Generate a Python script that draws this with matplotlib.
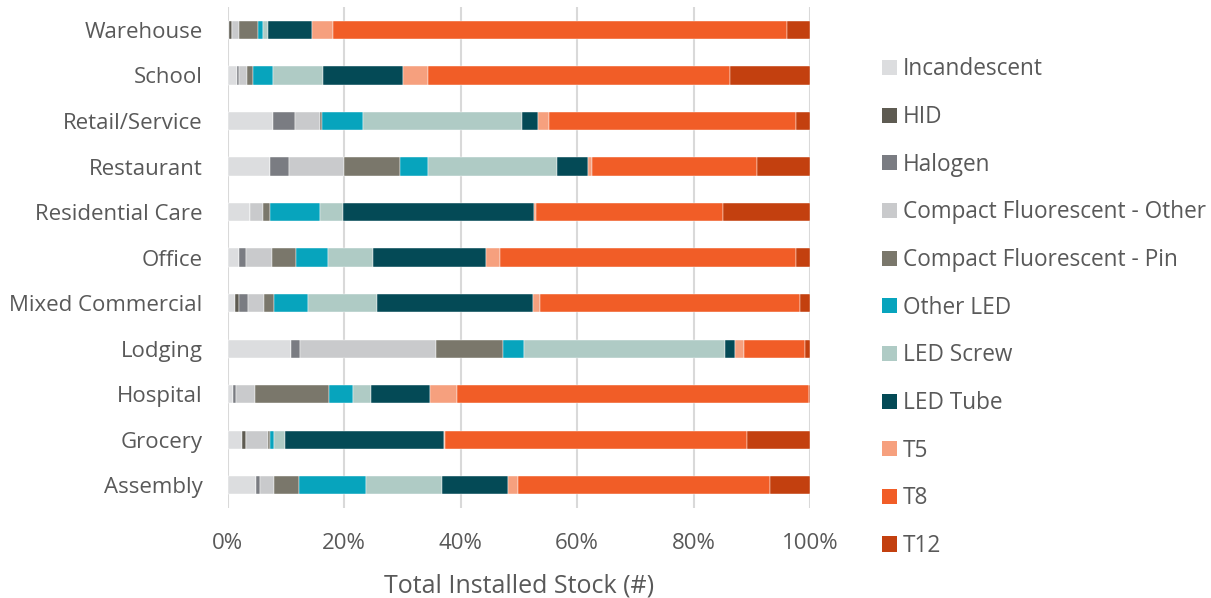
import matplotlib
matplotlib.use("Agg")
import matplotlib.pyplot as plt
import numpy as np
from matplotlib.patches import Patch
from matplotlib.ticker import PercentFormatter

plt.rcParams['font.family'] = ['Open Sans', 'DejaVu Sans']

# Building types, bottom to top
categories = ["Assembly", "Grocery", "Hospital", "Lodging", "Mixed Commercial",
              "Office", "Residential Care", "Restaurant", "Retail/Service",
              "School", "Warehouse"]

technologies = ["Incandescent", "HID", "Halogen", "Compact Fluorescent - Other",
                "Compact Fluorescent - Pin", "Other LED", "LED Screw", "LED Tube",
                "T5", "T8", "T12"]

# Share of installed stock (%) per technology, in category order above
incandescent = [4.9, 2.5, 0.9, 10.9, 1.3, 1.9, 3.8, 7.2, 7.8, 1.6, 0.2]
hid          = [0.0, 0.6, 0.0, 0.0, 0.6, 0.0, 0.0, 0.0, 0.0, 0.0, 0.5]
halogen      = [0.6, 0.0, 0.6, 1.6, 1.6, 1.3, 0.0, 3.4, 3.8, 0.4, 0.0]
cfl_other    = [2.4, 3.9, 3.2, 23.3, 2.7, 4.4, 2.3, 9.3, 4.3, 1.3, 1.2]
cfl_pin      = [4.3, 0.2, 12.7, 11.5, 1.7, 4.1, 1.1, 9.6, 0.3, 1.1, 3.3]
other_led    = [11.6, 0.8, 4.1, 3.5, 5.9, 5.5, 8.6, 4.9, 7.0, 3.4, 0.9]
led_screw    = [13.0, 1.8, 3.1, 34.6, 11.8, 7.8, 4.0, 22.1, 27.4, 8.6, 0.9]
led_tube     = [11.4, 27.3, 10.2, 1.7, 26.9, 19.3, 32.8, 5.3, 2.7, 13.7, 7.6]
t5           = [1.7, 0.3, 4.5, 1.55, 1.2, 2.4, 0.4, 0.7, 1.8, 4.3, 3.6]
t8           = [43.2, 51.8, 60.5, 10.45, 44.5, 50.8, 32.0, 28.3, 42.4, 51.7, 78.4]
t12          = [6.9, 10.9, 0.2, 0.9, 1.8, 2.5, 15.0, 9.2, 2.5, 13.8, 4.0]

series = [incandescent, hid, halogen, cfl_other, cfl_pin, other_led,
          led_screw, led_tube, t5, t8, t12]

colors = ["#dcdddf", "#5e5b52", "#7a7c82", "#c9cacc", "#7a776b", "#07a4bd",
          "#afcbc5", "#044a56", "#f6a07e", "#f15d27", "#c3400f"]

text_color = "#595959"

data = np.array(series, dtype=float)
shares = data / data.sum(axis=0) * 100

fig = plt.figure(figsize=(12.11, 5.98), dpi=100)
ax = fig.add_axes([0.188, 0.1505, 0.481, 0.8375])

y = np.arange(len(categories))
left = np.zeros(len(categories))
for vals, col, name in zip(shares, colors, technologies):
    ax.barh(y, vals, left=left, height=0.4, color=col, label=name,
            edgecolor="white", linewidth=0.3, zorder=3)
    left += vals

ax.set_xlim(0, 100)
ax.set_ylim(-0.5, len(categories) - 0.5)
ax.set_xticks(np.arange(0, 101, 20))
ax.xaxis.set_major_formatter(PercentFormatter(decimals=0))
ax.set_yticks(y)
ax.set_yticklabels(categories)
ax.grid(axis="x", color="#d9d9d9", linewidth=1.5, zorder=0)
for s in ax.spines.values():
    s.set_visible(False)
ax.tick_params(axis="both", length=0, labelsize=16, colors=text_color)
ax.tick_params(axis="y", pad=18)
ax.tick_params(axis="x", pad=18)
ax.set_xlabel("Total Installed Stock (#)", fontsize=18, color=text_color, labelpad=14)

handles = [Patch(facecolor=c, edgecolor="none") for c in colors]
leg = fig.legend(handles, technologies, loc="upper left",
                 bbox_to_anchor=(0.7205, 0.919), frameon=False,
                 fontsize=16.3, labelcolor=text_color, handlelength=0.66,
                 handleheight=0.66, handletextpad=0.28, labelspacing=1.045,
                 borderaxespad=0)

fig.savefig("out.png", dpi=100)
